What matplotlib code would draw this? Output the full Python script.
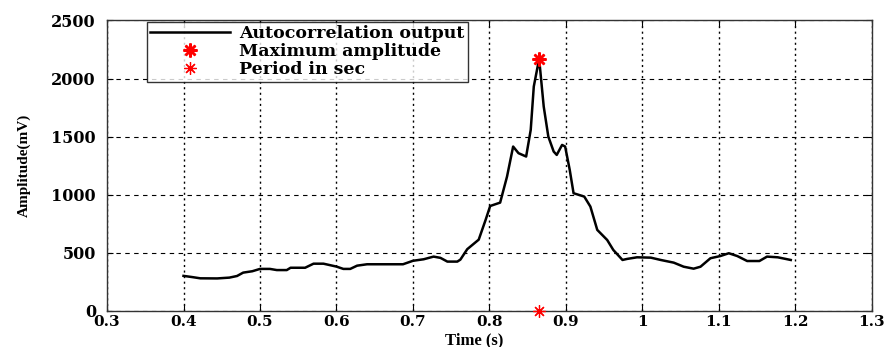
import matplotlib
matplotlib.use("Agg")
import matplotlib.pyplot as plt
import numpy as np

# Autocorrelation output sampled over time
time_s = [0.400, 0.411, 0.422, 0.444, 0.460, 0.470, 0.478, 0.490, 0.500, 0.513,
          0.522, 0.535, 0.540, 0.559, 0.570, 0.583, 0.600, 0.609, 0.618, 0.627,
          0.640, 0.687, 0.700, 0.714, 0.727, 0.736, 0.745, 0.758, 0.762, 0.771,
          0.786, 0.795, 0.801, 0.814, 0.823, 0.831, 0.838, 0.848, 0.854, 0.858,
          0.865, 0.871, 0.877, 0.884, 0.888, 0.895, 0.899, 0.905, 0.910, 0.924,
          0.932, 0.941, 0.954, 0.962, 0.974, 0.980, 0.993, 1.011, 1.024, 1.041,
          1.054, 1.067, 1.076, 1.089, 1.102, 1.113, 1.124, 1.137, 1.153, 1.163,
          1.177, 1.194]
amplitude_mv = [300, 290, 279, 278, 285, 299, 328, 340, 360, 360,
                350, 350, 370, 370, 405, 405, 380, 360, 360, 388,
                400, 400, 430, 443, 466, 455, 423, 423, 440, 530,
                612, 782, 902, 931, 1155, 1414, 1357, 1328, 1558, 1931,
                2170, 1758, 1500, 1371, 1342, 1428, 1414, 1213, 1012, 983,
                897, 696, 609, 523, 437, 446, 460, 457, 437, 414,
                379, 362, 379, 452, 471, 495, 471, 428, 428, 466,
                460, 437]

x_ticks = [0.3, 0.4, 0.5, 0.6, 0.7, 0.8, 0.9, 1.0, 1.1, 1.2, 1.3]
x_tick_labels = ["0.3", "0.4", "0.5", "0.6", "0.7", "0.8", "0.9", "1", "1.1", "1.2", "1.3"]
y_ticks = [0, 500, 1000, 1500, 2000, 2500]

i_max = int(np.argmax(amplitude_mv))
peak_time = time_s[i_max]
peak_amp = amplitude_mv[i_max]

asterisk = (8, 2, 0)  # eight-armed asterisk, like a '+' over an 'x'

fig = plt.figure(figsize=(8.86, 3.47), dpi=100)
ax = fig.add_axes([0.1208, 0.1046, 0.8632, 0.8364])

ax.plot(time_s, amplitude_mv, color="black", lw=1.8, label="Autocorrelation output")
ax.plot([peak_time], [peak_amp], ls="none", marker=asterisk, color="red",
        markersize=10, mew=1.8, label="Maximum amplitude", zorder=5)
ax.plot([peak_time], [0], ls="none", marker=asterisk, color="red",
        markersize=9, mew=0.9, label="Period in sec", clip_on=False, zorder=5)

ax.set_xlim(0.3, 1.3)
ax.set_ylim(0, 2500)
ax.set_xticks(x_ticks)
ax.set_xticklabels(x_tick_labels)
ax.set_yticks(y_ticks)

ax.xaxis.grid(True, linestyle=(0, (1.5, 2.5)), color="black", lw=1.0)
ax.yaxis.grid(True, linestyle=(0, (4, 4)), color="black", lw=0.8)
ax.set_axisbelow(True)
ax.tick_params(direction="in", top=True, right=True, length=4)
ax.tick_params(axis="x", pad=3)
ax.tick_params(axis="y", pad=8)

for lab in ax.get_xticklabels():
    lab.set_fontfamily("DejaVu Serif")
    lab.set_fontweight("bold")
    lab.set_fontsize(11)
for lab in ax.get_yticklabels():
    lab.set_fontfamily("DejaVu Serif")
    lab.set_fontweight("bold")
    lab.set_fontsize(11.5)

ax.set_xlabel("Time (s)", fontfamily="Liberation Serif", fontweight="bold",
              fontsize=12)
ax.xaxis.set_label_coords(0.48, -0.075)
ax.set_ylabel("Amplitude(mV)", fontfamily="Liberation Serif", fontweight="bold",
              fontsize=11)
ax.yaxis.set_label_coords(-0.10, 0.5)

for sp in ax.spines.values():
    sp.set_linewidth(1.0)
    sp.set_color("#333333")

leg = ax.legend(loc="upper left", bbox_to_anchor=(0.052, 0.995),
                prop={"family": "DejaVu Serif", "weight": "bold", "size": 12.5},
                frameon=True, fancybox=False, edgecolor="black",
                handlelength=4.6, handletextpad=0.5, borderpad=0.2,
                labelspacing=0.05, borderaxespad=0)
leg.get_frame().set_linewidth(1.0)
leg.set_zorder(10)

fig.savefig("out.png", dpi=100)
